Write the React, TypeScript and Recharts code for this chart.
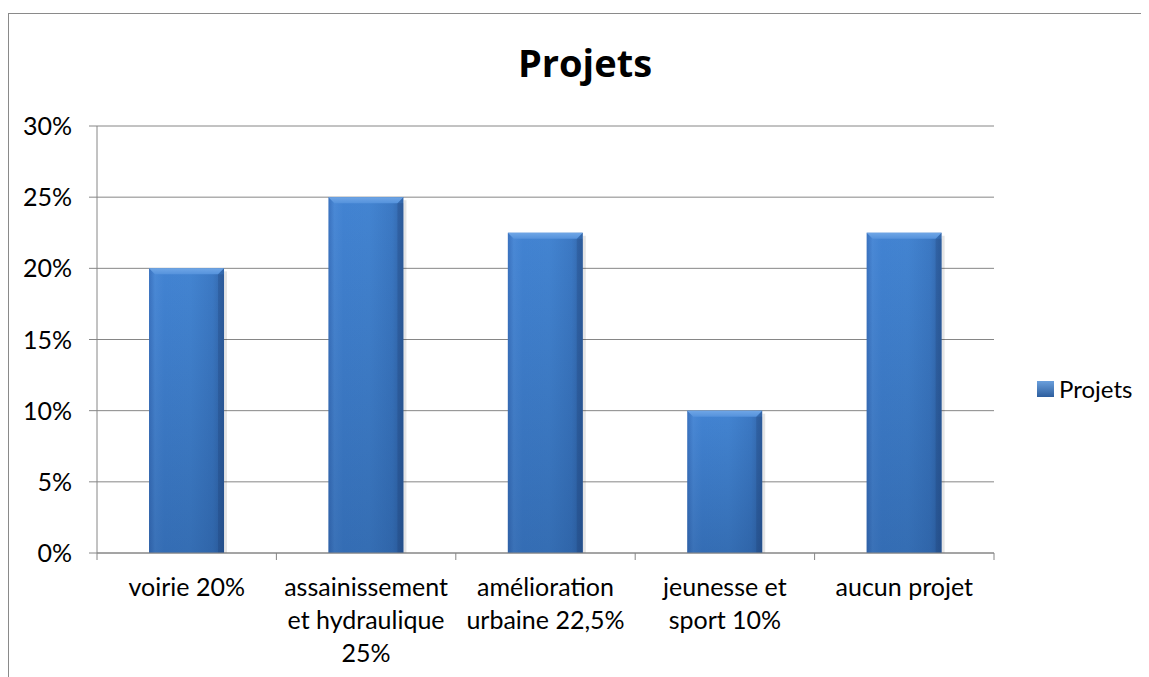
import React from 'react';
import { BarChart, Bar, XAxis, YAxis, CartesianGrid, Legend } from 'recharts';

const TITLE = 'Projets';
const SERIES_NAME = 'Projets';
const CATEGORIES = [
  'voirie 20%',
  'assainissement\net hydraulique\n25%',
  'amélioration\nurbaine 22,5%',
  'jeunesse et\nsport 10%',
  'aucun projet',
];
const VALUES = [20, 25, 22.5, 10, 22.5];
const Y_TICKS = [0, 5, 10, 15, 20, 25, 30];

const data = CATEGORIES.map((c, i) => ({ name: c, value: VALUES[i] }));

const FONT = 'Lato, "Open Sans", sans-serif';
const GRID = '#868686';

const XTick = (props: any) => {
  const { x, y, payload, index, visibleTicksCount, width } = props;
  const band = typeof width === 'number' && visibleTicksCount ? width / visibleTicksCount : (payload.offset || 0) * 2;
  const half = band / 2;
  const lines = String(payload.value).split('\n');
  return (
    <g>
      <line x1={x - half} x2={x - half} y1={y} y2={y + 7} stroke={GRID} strokeWidth={1} />
      {index === visibleTicksCount - 1 && (
        <line x1={x + half} x2={x + half} y1={y} y2={y + 7} stroke={GRID} strokeWidth={1} />
      )}
      <text x={x} y={y + 43} textAnchor="middle" fill="#000" fontFamily={FONT} fontSize={25}>
        {lines.map((l, i) => (
          <tspan key={i} x={x} dy={i === 0 ? 0 : 33}>{l}</tspan>
        ))}
      </text>
    </g>
  );
};

const YTick = (props: any) => {
  const { x, y, payload } = props;
  return (
    <text x={x} y={y + 9} textAnchor="end" fill="#000" fontFamily={FONT} fontSize={25}>
      {payload.value}%
    </text>
  );
};

const BarShape = (props: any) => {
  const { x, y, width, height } = props;
  if (!height || height <= 0) return null;
  const b = 6;
  return (
    <g>
      <rect x={x + width} y={y + 3} width={3} height={height - 3} fill="rgba(0,0,0,0.10)" />
      <rect x={x} y={y} width={width} height={height} fill="url(#barGrad)" />
      <rect x={x} y={y} width={width} height={height} fill="url(#barShade)" />
      <polygon
        points={`${x},${y} ${x + width},${y} ${x + width - b},${y + b} ${x + b},${y + b}`}
        fill="url(#bevelGrad)"
      />
      <rect x={x + width - b} y={y + b} width={b} height={height - b} fill="rgba(20,45,90,0.18)" />
    </g>
  );
};

const LegendContent = () => (
  <svg width={115} height={32} style={{ display: 'block' }}>
    <defs>
      <linearGradient id="legGrad" x1="0" y1="0" x2="0" y2="1">
        <stop offset="0%" stopColor="#6a9fdc" />
        <stop offset="100%" stopColor="#2d5e9e" />
      </linearGradient>
    </defs>
    <rect x={0} y={7} width={17} height={16} fill="url(#legGrad)" />
    <text x={22} y={24} fontFamily={FONT} fontSize={24} fill="#000">{SERIES_NAME}</text>
  </svg>
);

export default function App() {
  return (
    <div style={{ paddingTop: 5 }}>
      <div
        style={{
          position: 'relative',
          width: 1140,
          height: 663,
          borderLeft: '1px solid #8a8a8a',
          borderTop: '1px solid #8a8a8a',
          background: '#fff',
        }}
      >
        <div
          style={{
            position: 'absolute',
            left: 376,
            top: 29,
            width: 400,
            textAlign: 'center',
            fontFamily: '"Open Sans", Lato, sans-serif',
            fontWeight: 'bold',
            fontSize: 38,
            lineHeight: '38px',
            color: '#000',
          }}
        >
          {TITLE}
        </div>
        <BarChart
          width={1140}
          height={663}
          data={data}
          margin={{ top: 112, right: 155, bottom: 0, left: 28 }}
          barCategoryGap="29%"
        >
          <defs>
            <linearGradient id="barGrad" x1="0" y1="0" x2="1" y2="0">
              <stop offset="0%" stopColor="#3a72bf" />
              <stop offset="8%" stopColor="#4a89d6" />
              <stop offset="20%" stopColor="#4283d2" />
              <stop offset="55%" stopColor="#4384d1" />
              <stop offset="85%" stopColor="#3c79c4" />
              <stop offset="100%" stopColor="#3265a8" />
            </linearGradient>
            <linearGradient id="barShade" x1="0" y1="0" x2="0" y2="1">
              <stop offset="0%" stopColor="#0a2a5a" stopOpacity={0} />
              <stop offset="100%" stopColor="#0a2a5a" stopOpacity={0.25} />
            </linearGradient>
            <linearGradient id="bevelGrad" x1="0" y1="0" x2="0" y2="1">
              <stop offset="0%" stopColor="#6fa6e6" />
              <stop offset="100%" stopColor="#5592dc" />
            </linearGradient>
          </defs>
          <CartesianGrid vertical={false} stroke={GRID} strokeWidth={1} />
          <XAxis
            dataKey="name"
            interval={0}
            tickSize={0}
            tickMargin={0}
            tickLine={false}
            axisLine={{ stroke: GRID, strokeWidth: 1 }}
            tick={<XTick />}
            height={92}
          />
          <YAxis
            domain={[0, 30]}
            ticks={Y_TICKS}
            width={60}
            tickSize={8}
            tickMargin={17}
            tickLine={{ stroke: GRID }}
            axisLine={{ stroke: GRID, strokeWidth: 1 }}
            tick={<YTick />}
            interval={0}
          />
          <Legend
            content={<LegendContent />}
            wrapperStyle={{ position: 'absolute', left: 1028, top: 360, width: 115, height: 32 }}
          />
          <Bar dataKey="value" name={SERIES_NAME} shape={<BarShape />} isAnimationActive={false} />
        </BarChart>
      </div>
    </div>
  );
}
